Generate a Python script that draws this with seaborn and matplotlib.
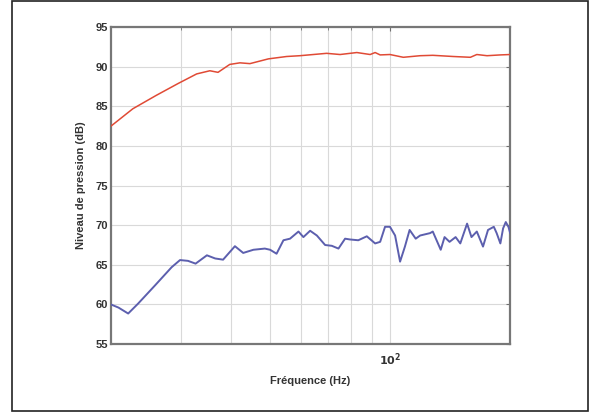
import numpy as np
import pandas as pd
import matplotlib
matplotlib.use('Agg')
import matplotlib.pyplot as plt
import matplotlib.ticker as mticker
from matplotlib.patches import Rectangle
import seaborn as sns

freq_haut = [20, 22.7, 26.0, 29.5, 32.8, 35.4, 37.1, 39.7, 42.1, 44.6, 49.6, 55.1, 59.5,
             69.4, 75.0, 82.6, 89.2, 91.8, 94.5, 100, 108, 119, 128, 144, 159, 165, 175, 189, 200]
niveau_haut = [82.5, 84.7, 86.4, 87.9, 89.1, 89.5, 89.3, 90.3, 90.5, 90.4, 91.0, 91.3, 91.4,
               91.7, 91.55, 91.8, 91.55, 91.8, 91.5, 91.55, 91.2, 91.4, 91.45, 91.3, 91.2, 91.55, 91.4, 91.5, 91.55]

freq_bas = [20, 20.9, 22.1, 23.4, 25.8, 28.4, 29.8, 31.2, 32.6, 34.8, 36.5, 38.2, 40.9, 42.9,
            45.5, 48.6, 50.1, 52.0, 54.1, 56.2, 59.0, 60.7, 63.1, 65.6, 68.8, 71.5, 74.3, 77.2,
            79.4, 83.3, 87.5, 91.8, 94.5, 97.2, 100, 103, 106, 109, 112, 116, 119, 126, 128,
            134, 137, 141, 146, 150, 156, 160, 165, 171, 176, 182, 185, 189, 192, 195, 198, 200]
niveau_bas = [60.0, 59.6, 58.85, 60.1, 62.4, 64.7, 65.6, 65.5, 65.15, 66.2, 65.8, 65.65, 67.35, 66.5,
              66.9, 67.05, 66.9, 66.4, 68.1, 68.3, 69.2, 68.5, 69.3, 68.7, 67.5, 67.4, 67.05, 68.3,
              68.2, 68.1, 68.6, 67.7, 67.9, 69.8, 69.8, 68.7, 65.4, 67.3, 69.4, 68.3, 68.7, 69.0, 69.2,
              66.9, 68.5, 67.9, 68.5, 67.7, 70.2, 68.5, 69.2, 67.3, 69.4, 69.8, 69.0, 67.7, 69.6, 70.4, 69.8, 69.0]

sns.set_style('white')
plt.rcParams['font.family'] = ['Liberation Sans', 'DejaVu Sans']
plt.rcParams['mathtext.default'] = 'bf'

fig = plt.figure(figsize=(5.96, 4.12), dpi=100)
ax = fig.add_axes([0.186, 0.165, 0.670, 0.769])

df_haut = pd.DataFrame({'f': freq_haut, 'L': niveau_haut})
df_bas = pd.DataFrame({'f': freq_bas, 'L': niveau_bas})
sns.lineplot(data=df_haut, x='f', y='L', ax=ax, color='#e04a35', linewidth=1.1, zorder=3)
sns.lineplot(data=df_bas, x='f', y='L', ax=ax, color='#5c5fae', linewidth=1.4, zorder=3)

ax.set_xscale('log')
ax.set_xlim(20, 200)
ax.set_ylim(55, 95)
ax.set_yticks(np.arange(55, 96, 5))
ax.xaxis.set_major_locator(mticker.FixedLocator([100]))
ax.xaxis.set_major_formatter(mticker.FixedFormatter(['$10^2$']))
ax.xaxis.set_minor_locator(mticker.FixedLocator([30, 40, 50, 60, 70, 80, 90]))
ax.xaxis.set_minor_formatter(mticker.NullFormatter())

ax.grid(True, which='both', color='#d9d9d9', linewidth=0.8)
ax.set_axisbelow(True)
for s in ax.spines.values():
    s.set_color('#777777')
    s.set_linewidth(1.6)
ax.tick_params(which='both', direction='in', top=True, right=True, color='#707070',
               labelsize=8, pad=2)
ax.tick_params(axis='x', which='major', pad=5)
ax.tick_params(which='major', length=3)
ax.tick_params(which='minor', length=2)
for lab in ax.get_yticklabels() + ax.get_xticklabels():
    lab.set_fontweight('bold')
    lab.set_color('#333333')

ax.set_xlabel('Fréquence (Hz)', fontsize=8, fontweight='bold', color='#333333', labelpad=6)
ax.set_ylabel('Niveau de pression (dB)', fontsize=8, fontweight='bold', color='#333333', labelpad=7)

fig.patches.append(Rectangle((0.020, 0.0024), 0.967, 0.9952, transform=fig.transFigure,
                             fill=False, edgecolor='#222222', linewidth=1.2))

fig.savefig('out.png', dpi=100)
